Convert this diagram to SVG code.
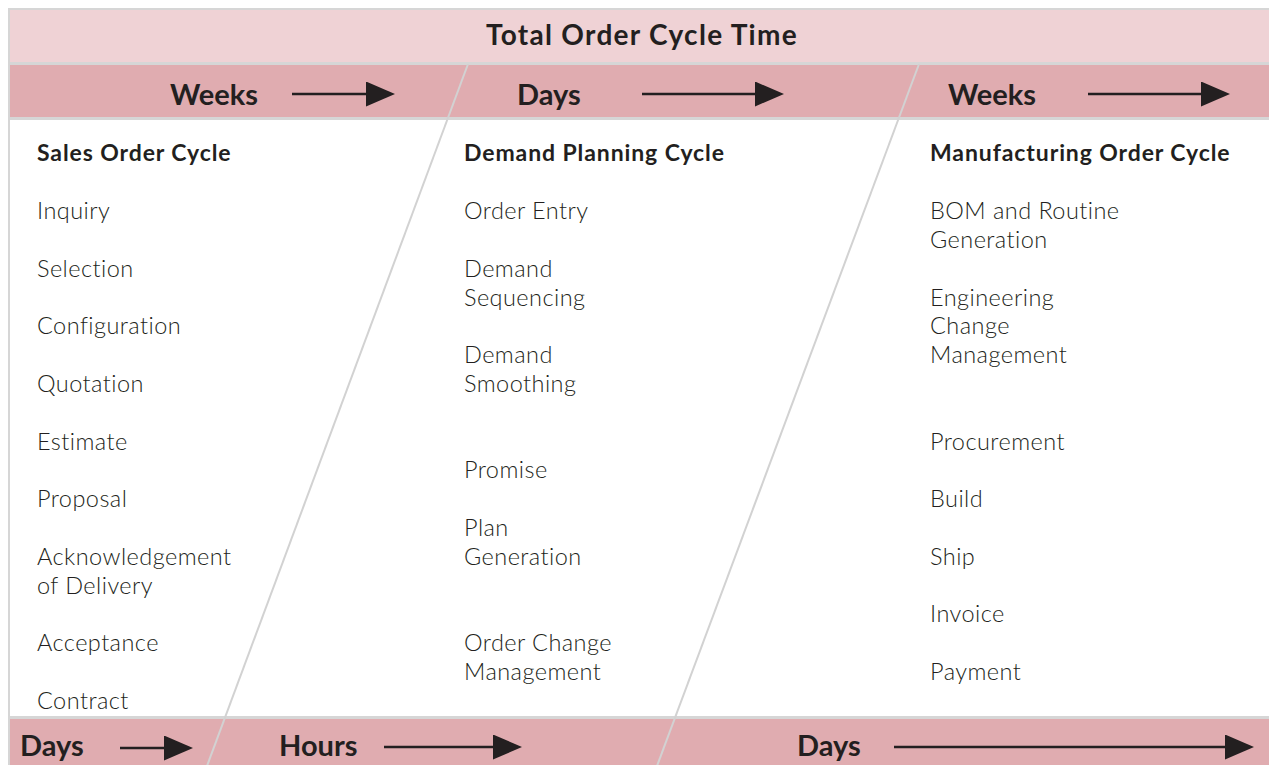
<svg xmlns="http://www.w3.org/2000/svg" width="1269" height="765" viewBox="0 0 1269 765">
  <defs>
    <style>
      .band-top { fill: #efd2d5; }
      .band { fill: #e0acb0; }
      .rule { fill: #d6d6d6; }
      .divider { stroke: #d2d2d2; stroke-width: 2; fill: none; }
      .arrow { stroke: #231f20; stroke-width: 2.5; fill: none; marker-end: url(#head); }
      .title { font-family: Lato, "Noto Sans", sans-serif; font-weight: 700; font-size: 28px; letter-spacing: 1.3px; fill: #231f20; }
      .unit { font-family: Lato, "Noto Sans", sans-serif; font-weight: 700; font-size: 29px; fill: #231f20; }
      .heading { font-family: Lato, "Noto Sans", sans-serif; font-weight: 700; font-size: 23px; letter-spacing: 0.9px; fill: #231f20; }
      .item { font-family: Lato, "Noto Sans", sans-serif; font-weight: 300; font-size: 23.5px; letter-spacing: 0.45px; fill: #231f20; }
    </style>
    <marker id="head" markerUnits="userSpaceOnUse" markerWidth="30" markerHeight="26" refX="0" refY="12.5" orient="auto">
      <path d="M0,0 L29,12.5 L0,25 Z" fill="#231f20"/>
    </marker>
  </defs>

  <rect width="1269" height="765" fill="#ffffff"/>

  <!-- banner and time-scale bands -->
  <g id="bands">
    <rect class="rule" x="8" y="8" width="1261" height="757"/>
    <rect fill="#ffffff" x="10" y="10" width="1259" height="755"/>
    <rect class="band-top" x="10" y="10" width="1259" height="52"/>
    <rect class="rule" x="10" y="62" width="1259" height="3"/>
    <rect class="band" x="10" y="65" width="1259" height="52"/>
    <rect class="rule" x="10" y="117" width="1259" height="3"/>
    <rect class="rule" x="10" y="716" width="1259" height="3"/>
    <rect class="band" x="10" y="719" width="1259" height="46"/>
  </g>

  <g id="banner">
    <text class="title" x="642" y="45" text-anchor="middle">Total Order Cycle Time</text>
  </g>

  <!-- dividers and time arrows -->
  <g id="connectors">
    <line class="divider" x1="468" y1="64" x2="207" y2="766"/>
    <line class="divider" x1="919" y1="64" x2="657" y2="766"/>
    <line class="arrow" x1="292" y1="94" x2="366" y2="94"/>
    <line class="arrow" x1="642" y1="94" x2="755" y2="94"/>
    <line class="arrow" x1="1088" y1="94" x2="1201" y2="94"/>
    <line class="arrow" x1="120" y1="748" x2="164" y2="748"/>
    <line class="arrow" x1="384" y1="747" x2="493" y2="747"/>
    <line class="arrow" x1="894" y1="747" x2="1225" y2="747"/>
  </g>

  <g id="units-top">
    <text class="unit" x="170" y="105">Weeks</text>
    <text class="unit" x="517" y="105">Days</text>
    <text class="unit" x="948" y="105">Weeks</text>
  </g>

  <g id="units-bottom">
    <text class="unit" x="20" y="756">Days</text>
    <text class="unit" x="279" y="756">Hours</text>
    <text class="unit" x="797" y="756">Days</text>
  </g>

  <g id="sales-order-cycle">
    <text class="heading" x="37" y="161">Sales Order Cycle</text>
    <text class="item" x="37" y="219">Inquiry</text>
    <text class="item" x="37" y="277">Selection</text>
    <text class="item" x="37" y="334">Configuration</text>
    <text class="item" x="37" y="392">Quotation</text>
    <text class="item" x="37" y="450">Estimate</text>
    <text class="item" x="37" y="507">Proposal</text>
    <text class="item" x="37" y="565">Acknowledgement</text>
    <text class="item" x="37" y="594">of Delivery</text>
    <text class="item" x="37" y="651">Acceptance</text>
    <text class="item" x="37" y="709">Contract</text>
  </g>

  <g id="demand-planning-cycle">
    <text class="heading" x="464" y="161">Demand Planning Cycle</text>
    <text class="item" x="464" y="219">Order Entry</text>
    <text class="item" x="464" y="277">Demand</text>
    <text class="item" x="464" y="306">Sequencing</text>
    <text class="item" x="464" y="363">Demand</text>
    <text class="item" x="464" y="392">Smoothing</text>
    <text class="item" x="464" y="478">Promise</text>
    <text class="item" x="464" y="536">Plan</text>
    <text class="item" x="464" y="565">Generation</text>
    <text class="item" x="464" y="651">Order Change</text>
    <text class="item" x="464" y="680">Management</text>
  </g>

  <g id="manufacturing-order-cycle">
    <text class="heading" x="930" y="161">Manufacturing Order Cycle</text>
    <text class="item" x="930" y="219">BOM and Routine</text>
    <text class="item" x="930" y="248">Generation</text>
    <text class="item" x="930" y="306">Engineering</text>
    <text class="item" x="930" y="334">Change</text>
    <text class="item" x="930" y="363">Management</text>
    <text class="item" x="930" y="450">Procurement</text>
    <text class="item" x="930" y="507">Build</text>
    <text class="item" x="930" y="565">Ship</text>
    <text class="item" x="930" y="622">Invoice</text>
    <text class="item" x="930" y="680">Payment</text>
  </g>
</svg>
